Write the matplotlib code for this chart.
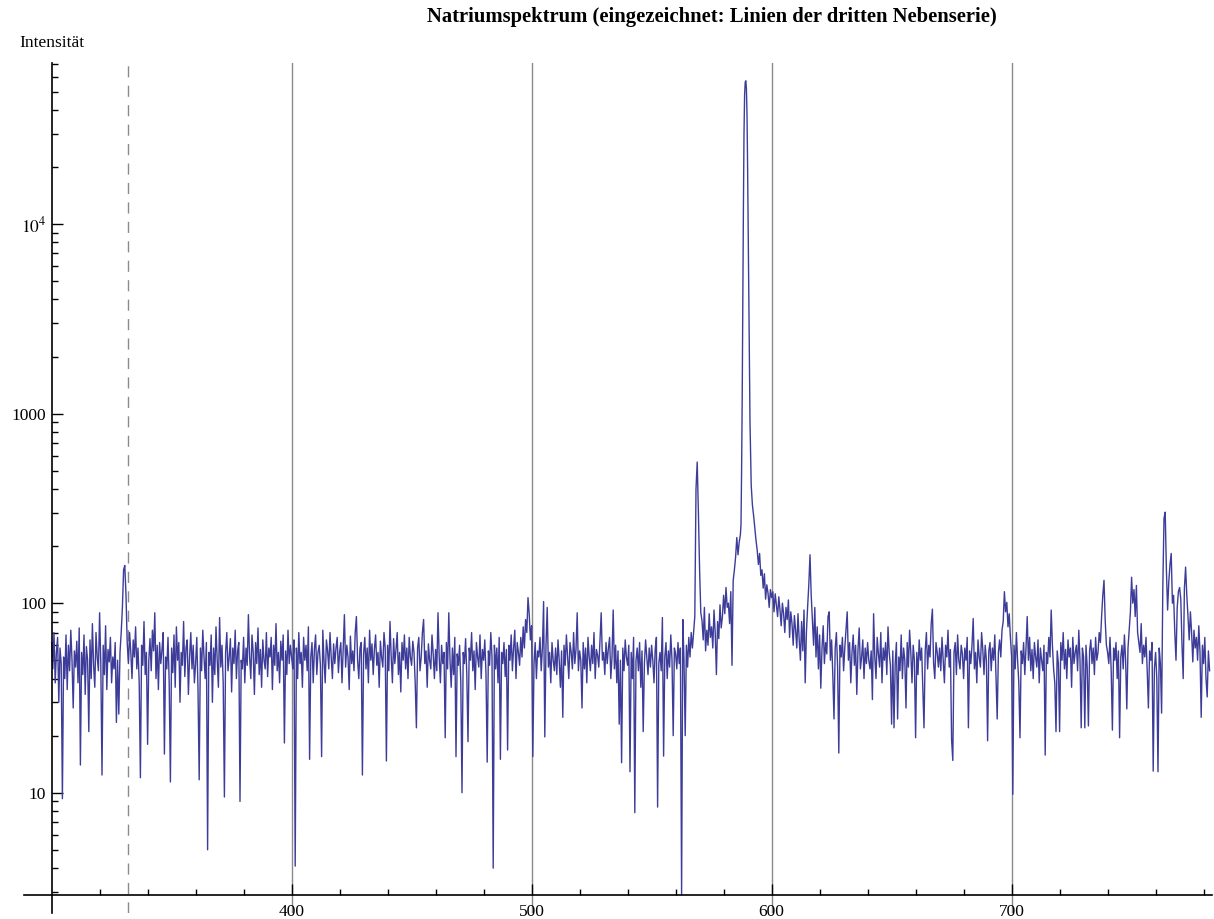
import numpy as np
import matplotlib
matplotlib.use("Agg")
import matplotlib.pyplot as plt
from matplotlib.ticker import FixedLocator, LogLocator, NullFormatter, FixedFormatter

# intensity samples, 0.5 nm apart
int_300 = [62, 45, 70, 38, 55, 66, 30, 58, 48, 9.3, 52, 40, 68, 35, 60, 44, 72, 50, 28, 56,
           46, 63, 38, 74, 14, 55, 42, 68, 33, 59, 50, 21, 64, 40, 78, 47, 36, 70, 52, 44,
           89, 48, 12.4, 60, 42, 76, 35, 57, 49, 66, 38, 52, 45, 62, 23.5, 50, 26, 55, 70, 95,
           150, 158, 110, 62, 48, 70, 55, 40, 64, 52, 75, 45, 58, 38, 12, 60, 47, 80, 42, 55,
           18, 50, 65, 44, 72, 56, 89, 40, 60, 35, 62, 48, 57, 70, 16, 52, 45, 66, 38, 11.4]
int_350 = [58, 43, 68, 36, 75, 50, 62, 30, 55, 47, 80, 41, 58, 64, 33, 52, 70, 45, 60, 38,
           48, 66, 35, 11.7, 58, 44, 72, 52, 40, 62, 5.0, 55, 47, 68, 30, 58, 42, 75, 50, 36,
           84, 46, 60, 38, 9.5, 55, 70, 44, 52, 65, 34, 58, 48, 72, 40, 56, 62, 9, 50, 45,
           66, 38, 58, 47, 87, 52, 40, 68, 55, 33, 62, 48, 74, 42, 57, 36, 64, 50, 45, 70,
           41, 58, 52, 66, 35, 60, 47, 78, 44, 55, 38, 63, 50, 68, 18.3, 56, 42, 72, 48, 60]
int_400 = [52, 45, 64, 4.1, 58, 40, 70, 48, 55, 36, 66, 50, 60, 44, 75, 15, 52, 62, 38, 57,
           68, 42, 55, 60, 47, 15.5, 72, 50, 38, 64, 56, 45, 70, 52, 40, 61, 48, 58, 66, 43,
           55, 62, 38, 58, 87, 46, 60, 52, 35, 67, 48, 56, 44, 70, 85, 50, 40, 58, 62, 12.4,
           54, 66, 45, 58, 38, 72, 50, 61, 42, 57, 68, 47, 55, 36, 63, 52, 46, 70, 58, 14.7,
           60, 44, 80, 52, 38, 65, 48, 57, 70, 42, 55, 34, 62, 50, 68, 45, 58, 40, 66, 52]
int_450 = [47, 63, 55, 38, 22, 58, 66, 44, 52, 70, 82, 48, 56, 36, 61, 50, 45, 68, 54, 40,
           57, 44, 89, 52, 38, 60, 48, 55, 19.5, 62, 45, 89, 50, 36, 58, 42, 66, 15.5, 54, 47,
           60, 38, 10, 55, 48, 65, 42, 18.6, 58, 50, 70, 44, 56, 35, 62, 52, 46, 68, 40, 57,
           50, 64, 42, 14.5, 56, 47, 70, 52, 4.0, 60, 45, 58, 38, 66, 15, 55, 48, 62, 41, 57,
           16.8, 60, 50, 68, 44, 58, 72, 40, 62, 55, 47, 66, 52, 75, 58, 82, 70, 107, 88, 64]
int_500 = [76, 15.5, 48, 62, 40, 56, 52, 66, 44, 58, 102, 19.7, 60, 95, 46, 55, 38, 62, 50, 44,
           58, 42, 64, 50, 36, 56, 25, 60, 47, 68, 52, 40, 62, 55, 45, 70, 48, 57, 89, 44,
           56, 50, 28, 62, 45, 58, 38, 66, 52, 44, 60, 48, 70, 40, 57, 53, 46, 64, 89, 50,
           55, 42, 62, 48, 58, 66, 40, 52, 92, 45, 60, 38, 56, 23, 50, 14.4, 58, 44, 64, 52,
           47, 60, 12.9, 55, 40, 66, 7.85, 50, 58, 44, 62, 36, 56, 21, 48, 64, 52, 42, 58, 46]
int_550 = [60, 50, 38, 57, 66, 8.4, 48, 55, 44, 84, 15.6, 52, 62, 40, 56, 46, 68, 50, 20, 58,
           54, 45, 62, 48, 58, 2.9, 82, 50, 20, 60, 46, 66, 52, 70, 58, 70, 85, 400, 555, 300,
           150, 89, 81, 64, 95, 56, 72, 60, 88, 66, 75, 58, 92, 70, 42, 80, 65, 98, 74, 85,
           110, 88, 121, 95, 100, 78, 115, 47]

# sodium D line region, finer sampling
peak_wl = [584.0, 584.5, 585.0, 585.5, 586.0, 586.5, 587.0, 587.25, 587.5, 587.75, 588.0,
           588.25, 588.5, 588.75, 589.0, 589.25, 589.5, 589.75, 590.0, 590.25, 590.5,
           590.75, 591.0, 591.25, 591.5, 592.0, 592.5, 593.0, 593.5]
peak_int = [132, 150, 175, 222, 180, 210, 230, 260, 500, 1200, 4000,
            12000, 30000, 48000, 56000, 57000, 52000, 38000, 20000, 9000, 3500,
            1600, 900, 600, 420, 330, 290, 250, 215]

int_594 = [190, 160, 183, 140, 150, 120, 143, 105, 125, 113, 95, 118,
           107, 115, 90, 112, 98, 85, 108, 92, 76, 100, 88, 70, 95, 82, 104, 66, 90, 78, 60, 86,
           72, 58, 88, 64, 50, 80, 56, 92, 38, 70, 95, 125, 180, 110, 81, 60, 95, 52, 75, 45,
           68, 35.6, 58, 76, 48, 62, 54, 85, 90, 50, 64, 42, 24.5, 58, 70, 46, 16.2, 60, 52, 66,
           44, 58, 72, 90, 50, 62, 38, 55, 68, 47, 60, 33, 57, 74, 45, 52, 64, 40, 58, 48,
           62, 50, 45, 56, 31, 88, 52, 40, 66, 54, 46, 70, 38, 58, 50, 62, 42, 75, 55, 47]
int_650 = [23, 56, 22, 48, 62, 24.5, 52, 44, 68, 40, 58, 50, 28, 62, 46, 72, 55, 38, 60, 50,
           19.5, 55, 42, 64, 50, 58, 36, 22, 56, 70, 45, 60, 52, 78, 93, 48, 40, 62, 55, 46,
           58, 44, 66, 50, 38, 60, 52, 72, 46, 57, 19, 14.8, 55, 62, 42, 68, 50, 45, 60, 54,
           40, 58, 50, 66, 22, 56, 48, 60, 83, 45, 55, 38, 64, 52, 46, 70, 57, 42, 60, 50,
           18.8, 56, 62, 44, 58, 50, 68, 40, 24.5, 55, 64, 52, 72, 80, 115, 90, 101, 75, 88, 66]
int_700 = [52, 9.8, 60, 45, 70, 50, 38, 19.5, 56, 48, 62, 42, 58, 85, 50, 66, 44, 57, 40, 62,
           52, 46, 64, 38, 58, 50, 44, 60, 15.8, 55, 48, 66, 52, 92, 60, 45, 38, 21, 56, 48,
           21, 62, 50, 70, 45, 57, 40, 64, 52, 58, 36, 66, 48, 55, 60, 44, 72, 50, 22, 58,
           52, 22, 60, 46, 22.5, 56, 64, 48, 58, 42, 66, 50, 55, 70, 62, 85, 110, 132, 81, 60,
           55, 48, 66, 44, 21.4, 58, 50, 62, 40, 56, 19.5, 52, 60, 45, 68, 50, 27.7, 58, 72, 90]
int_750 = [137, 100, 118, 85, 124, 70, 62, 55, 78, 48, 60, 52, 66, 44, 28, 56, 50, 62, 13, 45,
           55, 40, 12.9, 58, 48, 26.3, 120, 280, 302, 150, 92, 130, 160, 183, 100, 110, 70, 50, 95, 115,
           121, 105, 60, 40, 120, 155, 110, 85, 64, 90, 70, 49, 72, 58, 66, 50, 76, 55, 25, 60,
           48, 66, 40, 32, 56, 44]

series_line = 332.0        # dashed marker line
grid_x = [400, 500, 600, 700]

def grid(start, vals):
    return start + 0.5 * np.arange(len(vals))

wl = np.concatenate([grid(300.0, int_300), grid(350.0, int_350), grid(400.0, int_400),
                     grid(450.0, int_450), grid(500.0, int_500), grid(550.0, int_550),
                     peak_wl, grid(594.0, int_594), grid(650.0, int_650),
                     grid(700.0, int_700), grid(750.0, int_750)])
inten = np.concatenate([int_300, int_350, int_400, int_450, int_500, int_550, peak_int,
                        int_594, int_650, int_700, int_750])

plt.rcParams['font.family'] = ['Liberation Serif', 'DejaVu Serif']
plt.rcParams['mathtext.fontset'] = 'stix'

W, H = 1214, 919
fig = plt.figure(figsize=(W / 100, H / 100), dpi=100)
ax = fig.add_axes([24 / W, 1 - 913 / H, (1212 - 24) / W, (913 - 62.7) / H])

for gx in grid_x:
    ax.axvline(gx, color='#8a8a8a', lw=1.0, zorder=1)
ax.axvline(series_line, color='#8a8a8a', lw=1.0, ls=(0, (8, 6)), zorder=1)

ax.plot(wl, inten, color='#3d3d99', lw=1.0, zorder=2)

ax.set_yscale('log')
ax.set_xlim(288.5, 783.5)
ax.set_ylim(2.32, 71000)

for s in ['top', 'right']:
    ax.spines[s].set_visible(False)
ax.spines['left'].set_position(('data', 300))
ax.spines['bottom'].set_position(('data', 2.88))
ax.spines['left'].set_linewidth(1.2)
ax.spines['bottom'].set_linewidth(1.2)

ax.xaxis.set_major_locator(FixedLocator([400, 500, 600, 700]))
ax.xaxis.set_minor_locator(FixedLocator(np.arange(320, 781, 20)))
ax.yaxis.set_major_locator(FixedLocator([10, 100, 1000, 10000]))
ax.yaxis.set_major_formatter(FixedFormatter(['10', '100', '1000', r'$10^4$']))
ax.yaxis.set_minor_locator(LogLocator(base=10, subs=np.arange(2, 10)))
ax.yaxis.set_minor_formatter(NullFormatter())

ax.tick_params(which='major', direction='in', length=8, width=1.0, labelsize=12.5, pad=4)
ax.tick_params(which='minor', direction='in', length=4.5, width=1.0)
ax.tick_params(axis='x', which='major', pad=6)

fig.text(711.5 / W, 1 - 17 / H, 'Natriumspektrum (eingezeichnet: Linien der dritten Nebenserie)',
         ha='center', va='center', fontsize=14.9, fontweight='bold')
fig.text(19 / W, 1 - 47 / H, 'Intensität', ha='left', va='baseline', fontsize=12.5)

fig.savefig('out.png', dpi=100)
